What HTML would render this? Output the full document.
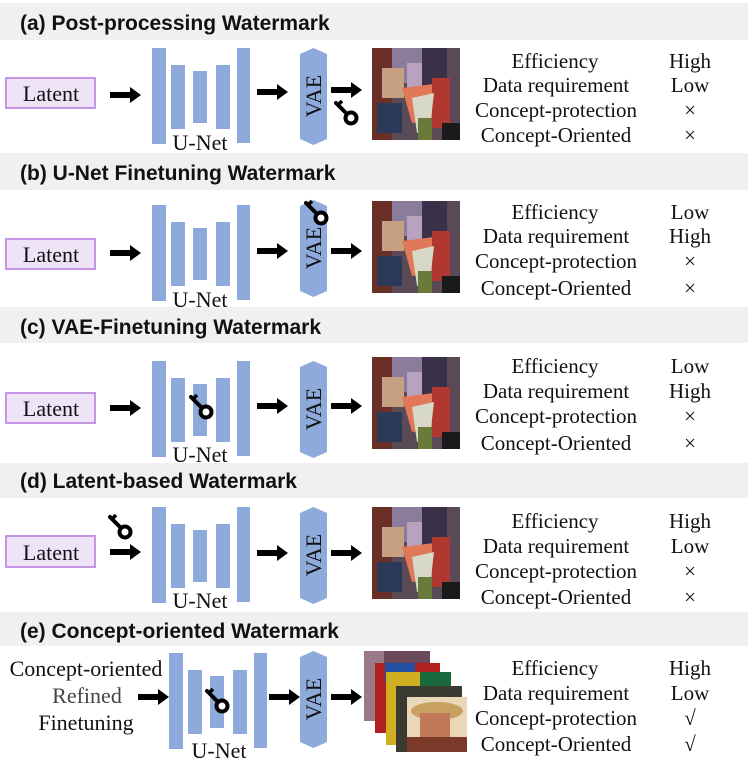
<!DOCTYPE html>
<html><head><meta charset="utf-8"><style>
html,body{margin:0;padding:0;background:#fff;width:748px;height:763px;overflow:hidden}
svg{display:block}
.t{font-family:"Liberation Serif",serif;font-size:21px;fill:#111}
.b{font-family:"Liberation Serif",serif;font-size:22px;fill:#111}
.h{font-family:"Liberation Sans",sans-serif;font-weight:bold;font-size:21px;fill:#111}
</style></head><body>
<svg width="748" height="763" viewBox="0 0 748 763" xmlns="http://www.w3.org/2000/svg">
<defs>
<g id="arr"><rect x="0" y="-3" width="22" height="6" fill="#000"/><polygon points="20,-8 31,0 20,8" fill="#000"/></g>
<g id="unet" fill="#8eaadb">
<rect x="152" y="0" width="14" height="96"/><rect x="171" y="17" width="14" height="64"/><rect x="193" y="23" width="14" height="52"/><rect x="216" y="17" width="14" height="64"/><rect x="237" y="0" width="13" height="95"/>
</g>
<g id="vae"><polygon points="300,6 313.5,0 327,6 327,91 313.5,97 300,91" fill="#8eaadb"/>
<text class="b" transform="translate(321,48) rotate(-90)" text-anchor="middle">VAE</text></g>
<g id="key"><line x1="0" y1="0" x2="11" y2="11" stroke="#000" stroke-width="4" stroke-linecap="round"/><line x1="2" y1="2" x2="6" y2="-2" stroke="#000" stroke-width="3.5"/><circle cx="15" cy="15" r="5.5" fill="#fff" stroke="#000" stroke-width="4"/></g>
<g id="pic">
<rect width="88" height="92" fill="#5a4a55"/>
<rect x="0" y="0" width="20" height="92" fill="#6a3028"/>
<rect x="20" y="0" width="30" height="35" fill="#8a7c9a"/>
<rect x="50" y="0" width="25" height="40" fill="#3a3048"/>
<rect x="10" y="20" width="22" height="30" fill="#c6a080"/>
<rect x="35" y="15" width="15" height="30" fill="#b8a2c0"/>
<polygon points="30,40 70,35 75,70 40,75" fill="#e2785a"/>
<rect x="60" y="30" width="18" height="50" fill="#b03830"/>
<polygon points="40,50 62,45 58,80 45,85" fill="#d8d8c8"/>
<rect x="46" y="70" width="14" height="22" fill="#6a7a3a"/>
<rect x="5" y="55" width="25" height="30" fill="#2a3a58"/>
<rect x="70" y="75" width="18" height="17" fill="#1a1a1a"/>
</g>
</defs>

<rect x="0" y="3" width="748" height="37" fill="#f0f0f0"/>
<rect x="0" y="153" width="748" height="37" fill="#f0f0f0"/>
<rect x="0" y="307" width="748" height="36" fill="#f0f0f0"/>
<rect x="0" y="463" width="748" height="35" fill="#f0f0f0"/>
<rect x="0" y="612" width="748" height="34" fill="#f0f0f0"/>
<text class="h" x="20" y="30">(a) Post-processing Watermark</text>
<text class="h" x="20" y="180">(b) U-Net Finetuning Watermark</text>
<text class="h" x="20" y="334">(c) VAE-Finetuning Watermark</text>
<text class="h" x="20" y="488">(d) Latent-based Watermark</text>
<text class="h" x="20" y="638">(e) Concept-oriented Watermark</text>

<g transform="translate(0,48)">
<rect x="6" y="30" width="89" height="30" fill="#efe3f8" stroke="#c596e6" stroke-width="2"/>
<text class="b" x="51" y="53" text-anchor="middle">Latent</text>
<use href="#arr" x="110" y="47"/>
<use href="#unet"/>
<text class="b" x="200" y="102" text-anchor="middle">U-Net</text>
<use href="#arr" x="257" y="44"/>
<use href="#vae"/>
<use href="#arr" x="331" y="42"/>
<use href="#key" x="336" y="55"/>
<use href="#pic" x="372" y="0"/>
</g>
<g transform="translate(0,205)">
<rect x="6" y="34" width="89" height="30" fill="#efe3f8" stroke="#c596e6" stroke-width="2"/>
<text class="b" x="51" y="57" text-anchor="middle">Latent</text>
<use href="#arr" x="110" y="48"/>
<use href="#unet"/>
<text class="b" x="200" y="102" text-anchor="middle">U-Net</text>
<use href="#arr" x="257" y="46"/>
<use href="#vae" y="-5"/>
<use href="#arr" x="331" y="46"/>
<use href="#key" x="306" y="-2"/>
<use href="#pic" x="372" y="-4"/>
</g>
<g transform="translate(0,361)">
<rect x="6" y="32" width="89" height="30" fill="#efe3f8" stroke="#c596e6" stroke-width="2"/>
<text class="b" x="51" y="55" text-anchor="middle">Latent</text>
<use href="#arr" x="110" y="47"/>
<use href="#unet"/>
<text class="b" x="200" y="101" text-anchor="middle">U-Net</text>
<use href="#arr" x="257" y="45"/>
<use href="#vae"/>
<use href="#arr" x="331" y="45"/>
<use href="#key" x="191" y="36"/>
<use href="#pic" x="372" y="-4"/>
</g>
<g transform="translate(0,507)">
<rect x="6" y="29" width="89" height="31" fill="#efe3f8" stroke="#c596e6" stroke-width="2"/>
<text class="b" x="51" y="53" text-anchor="middle">Latent</text>
<use href="#arr" x="110" y="45"/>
<use href="#unet"/>
<text class="b" x="200" y="101" text-anchor="middle">U-Net</text>
<use href="#arr" x="257" y="46"/>
<use href="#vae"/>
<use href="#arr" x="331" y="46"/>
<use href="#key" x="110" y="10"/>
<use href="#pic" x="372" y="0"/>
</g>
<g transform="translate(0,653)">
<text class="b" x="86" y="23" text-anchor="middle">Concept-oriented</text>
<text class="b" x="87" y="50" text-anchor="middle" style="fill:#444">Refined</text>
<text class="b" x="86" y="77" text-anchor="middle">Finetuning</text>
<use href="#arr" x="138" y="44"/>
<g transform="translate(17,0)"><use href="#unet"/></g>
<text class="b" x="219" y="105" text-anchor="middle">U-Net</text>
<use href="#arr" x="269" y="44"/>
<use href="#vae" y="-2"/>
<use href="#arr" x="331" y="44"/>
<use href="#key" x="207" y="38"/>
<g>
<rect x="364" y="-2" width="66" height="70" fill="#6a4a5a"/>
<rect x="364" y="-2" width="20" height="70" fill="#9a7a8a"/>
<rect x="375" y="10" width="65" height="70" fill="#b02020"/>
<rect x="385" y="10" width="30" height="20" fill="#2050a0"/>
<rect x="386" y="19" width="65" height="73" fill="#d0b020"/>
<rect x="420" y="19" width="31" height="40" fill="#1a6a40"/>
<rect x="396" y="33" width="66" height="66" fill="#3a3a32"/>
<rect x="407" y="44" width="60" height="55" fill="#e8d8b8"/>
<ellipse cx="437" cy="58" rx="26" ry="9" fill="#c8a060"/>
<rect x="420" y="60" width="30" height="26" fill="#c07858"/>
<rect x="407" y="84" width="60" height="15" fill="#7a3a2a"/>
</g>
</g>

<g class="t" text-anchor="middle">
<text x="555" y="68">Efficiency</text><text x="556" y="92">Data requirement</text><text x="556" y="117">Concept-protection</text><text x="556" y="142">Concept-Oriented</text>
<text x="690" y="68">High</text><text x="690" y="92">Low</text><text x="690" y="117">×</text><text x="690" y="142">×</text>

<text x="555" y="219">Efficiency</text><text x="556" y="243">Data requirement</text><text x="556" y="268">Concept-protection</text><text x="556" y="295">Concept-Oriented</text>
<text x="690" y="219">Low</text><text x="690" y="243">High</text><text x="690" y="268">×</text><text x="690" y="295">×</text>

<text x="555" y="373">Efficiency</text><text x="556" y="398">Data requirement</text><text x="556" y="423">Concept-protection</text><text x="556" y="450">Concept-Oriented</text>
<text x="690" y="373">Low</text><text x="690" y="398">High</text><text x="690" y="423">×</text><text x="690" y="450">×</text>

<text x="555" y="528">Efficiency</text><text x="556" y="553">Data requirement</text><text x="556" y="578">Concept-protection</text><text x="556" y="604">Concept-Oriented</text>
<text x="690" y="528">High</text><text x="690" y="553">Low</text><text x="690" y="578">×</text><text x="690" y="604">×</text>

<text x="555" y="675">Efficiency</text><text x="556" y="700">Data requirement</text><text x="556" y="725">Concept-protection</text><text x="556" y="751">Concept-Oriented</text>
<text x="690" y="675">High</text><text x="690" y="700">Low</text><text x="690" y="725">√</text><text x="690" y="751">√</text>
</g>
</svg>
</body></html>
